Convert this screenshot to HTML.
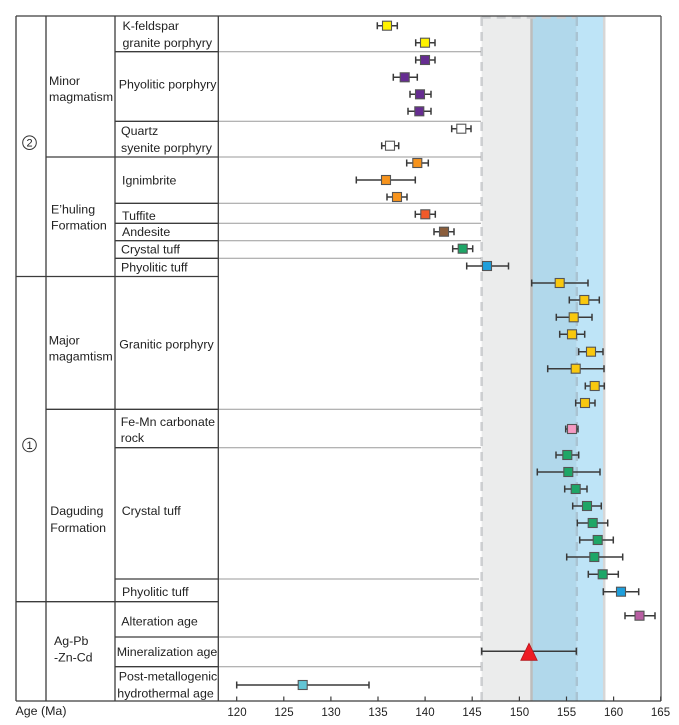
<!DOCTYPE html>
<html><head><meta charset="utf-8"><style>
html,body{margin:0;padding:0;background:#fff;}
svg{display:block;}
text{font-family:"Liberation Sans",Arial,sans-serif;fill:#222;}
</style></head><body>
<svg width="679" height="725" viewBox="0 0 679 725" xmlns="http://www.w3.org/2000/svg">
<!-- bands -->
<rect x="481.7" y="16" width="49.8" height="685" fill="#ebecec"/>
<rect x="531.5" y="16" width="45.3" height="685" fill="#b1d8eb"/>
<rect x="576.8" y="16" width="27.4" height="685" fill="#bee4f7"/>
<line x1="531.5" y1="16" x2="531.5" y2="701" stroke="#bdbdbd" stroke-width="2.5"/>
<line x1="604.2" y1="16" x2="604.2" y2="701" stroke="#d6d6d6" stroke-width="2.5"/>
<g stroke="#cdcfd1" stroke-width="2.6" stroke-dasharray="9,6" fill="none">
<line x1="481.7" y1="17" x2="481.7" y2="701"/>
<line x1="481.7" y1="17.5" x2="576.8" y2="17.5"/>
</g>
<line x1="576.8" y1="17" x2="576.8" y2="701" stroke="#a9c3d2" stroke-width="2.4" stroke-dasharray="9,6"/>

<!-- plot area row lines -->
<g stroke="#9a9a9a" stroke-width="1">
<line x1="218" y1="51.7" x2="481" y2="51.7"/>
<line x1="218" y1="121.3" x2="481" y2="121.3"/>
<line x1="218" y1="157" x2="481" y2="157"/>
<line x1="218" y1="203.3" x2="481" y2="203.3"/>
<line x1="218" y1="223.3" x2="481" y2="223.3"/>
<line x1="218" y1="240.7" x2="481" y2="240.7"/>
<line x1="218" y1="258.3" x2="481" y2="258.3"/>
<line x1="218" y1="409.3" x2="481" y2="409.3"/>
<line x1="218" y1="447.7" x2="481" y2="447.7"/>
<line x1="218" y1="579" x2="479" y2="579"/>
<line x1="218" y1="637" x2="481" y2="637"/>
<line x1="218" y1="666.7" x2="481" y2="666.7"/>
</g>

<!-- table lines -->
<g stroke="#3c3c3c" stroke-width="1.3">
<line x1="16" y1="16" x2="661" y2="16"/>
<line x1="16" y1="701" x2="661" y2="701"/>
<line x1="16" y1="16" x2="16" y2="701"/>
<line x1="46" y1="16" x2="46" y2="701"/>
<line x1="115" y1="16" x2="115" y2="701"/>
<line x1="218.3" y1="16" x2="218.3" y2="701"/>
<line x1="16" y1="276.5" x2="218.3" y2="276.5"/>
<line x1="16" y1="601.7" x2="218.3" y2="601.7"/>
<line x1="46" y1="157" x2="218.3" y2="157"/>
<line x1="46" y1="409.3" x2="218.3" y2="409.3"/>
<line x1="115" y1="51.7" x2="218.3" y2="51.7"/>
<line x1="115" y1="121.3" x2="218.3" y2="121.3"/>
<line x1="115" y1="203.3" x2="218.3" y2="203.3"/>
<line x1="115" y1="223.3" x2="218.3" y2="223.3"/>
<line x1="115" y1="240.7" x2="218.3" y2="240.7"/>
<line x1="115" y1="258.3" x2="218.3" y2="258.3"/>
<line x1="115" y1="447.7" x2="218.3" y2="447.7"/>
<line x1="115" y1="579" x2="218.3" y2="579"/>
<line x1="115" y1="637" x2="218.3" y2="637"/>
<line x1="115" y1="666.7" x2="218.3" y2="666.7"/>
</g>
<line x1="661" y1="16" x2="661" y2="701" stroke="#555" stroke-width="1.3"/>

<!-- axis ticks -->
<g stroke="#3c3c3c" stroke-width="1.2">
<line x1="236.7" y1="696.5" x2="236.7" y2="701"/>
<line x1="283.8" y1="696.5" x2="283.8" y2="701"/>
<line x1="330.9" y1="696.5" x2="330.9" y2="701"/>
<line x1="378" y1="696.5" x2="378" y2="701"/>
<line x1="425.1" y1="696.5" x2="425.1" y2="701"/>
<line x1="472.2" y1="696.5" x2="472.2" y2="701"/>
<line x1="519.4" y1="696.5" x2="519.4" y2="701"/>
<line x1="566.5" y1="696.5" x2="566.5" y2="701"/>
<line x1="613.6" y1="696.5" x2="613.6" y2="701"/>
<line x1="660.7" y1="696.5" x2="660.7" y2="701"/>
</g>
<g font-size="11.5" text-anchor="middle">
<text x="237" y="716">120</text>
<text x="284" y="716">125</text>
<text x="331" y="716">130</text>
<text x="378" y="716">135</text>
<text x="425" y="716">140</text>
<text x="472" y="716">145</text>
<text x="519.5" y="716">150</text>
<text x="566.5" y="716">155</text>
<text x="613.6" y="716">160</text>
<text x="660.5" y="716">165</text>
</g>
<text x="15.5" y="715" font-size="12.4">Age (Ma)</text>

<!-- labels col3 -->
<g font-size="12.4">
<text x="122.5" y="30">K-feldspar</text>
<text x="122.5" y="47">granite porphyry</text>
<text x="118.7" y="88.5">Phyolitic porphyry</text>
<text x="121" y="135">Quartz</text>
<text x="121" y="152">syenite porphyry</text>
<text x="122" y="184.5">Ignimbrite</text>
<text x="122" y="220">Tuffite</text>
<text x="122" y="236">Andesite</text>
<text x="121" y="253.5">Crystal tuff</text>
<text x="121" y="271.5">Phyolitic tuff</text>
<text x="119.3" y="348.5">Granitic porphyry</text>
<text x="120.7" y="426">Fe-Mn carbonate</text>
<text x="120.7" y="442">rock</text>
<text x="121.7" y="515">Crystal tuff</text>
<text x="122" y="596">Phyolitic tuff</text>
<text x="121.3" y="625.5">Alteration age</text>
<text x="116.7" y="656">Mineralization age</text>
<text x="118.7" y="680.5">Post-metallogenic</text>
<text x="117.3" y="697.5">hydrothermal age</text>
<!-- col2 -->
<text x="49" y="85">Minor</text>
<text x="49" y="101">magmatism</text>
<text x="51" y="213.5">E’huling</text>
<text x="51" y="229.5">Formation</text>
<text x="48.7" y="344.5">Major</text>
<text x="48.7" y="360.5">magamtism</text>
<text x="50.3" y="515">Daguding</text>
<text x="50.3" y="532">Formation</text>
<text x="54" y="645">Ag-Pb</text>
<text x="54" y="661.5">-Zn-Cd</text>
</g>
<!-- circled numbers -->
<circle cx="29.5" cy="142.7" r="6.8" fill="none" stroke="#333" stroke-width="1"/>
<text x="29.5" y="146.7" font-size="11" text-anchor="middle">2</text>
<circle cx="29.5" cy="445" r="6.8" fill="none" stroke="#333" stroke-width="1"/>
<text x="29.5" y="449" font-size="11" text-anchor="middle">1</text>

<!-- data -->
<g id="data" stroke-linecap="butt"></g>
<g stroke="#3a3a3a" stroke-width="1.5" fill="none">
<path d="M377.3 25.7H397.3M377.3 22.2V29.2M397.3 22.2V29.2"/>
<path d="M415.7 42.7H435M415.7 39.2V46.2M435 39.2V46.2"/>
<path d="M415.7 60H435M415.7 56.5V63.5M435 56.5V63.5"/>
<path d="M393.3 77.3H417.3M393.3 73.8V80.8M417.3 73.8V80.8"/>
<path d="M410 94.3H431M410 90.8V97.8M431 90.8V97.8"/>
<path d="M408 111.3H431M408 107.8V114.8M431 107.8V114.8"/>
<path d="M451.7 128.7H471M451.7 125.2V132.2M471 125.2V132.2"/>
<path d="M381.7 145.7H398.7M381.7 142.2V149.2M398.7 142.2V149.2"/>
<path d="M406.7 163H428.3M406.7 159.5V166.5M428.3 159.5V166.5"/>
<path d="M356.3 180H415.3M356.3 176.5V183.5M415.3 176.5V183.5"/>
<path d="M387 197H407M387 193.5V200.5M407 193.5V200.5"/>
<path d="M415.3 214.3H435.3M415.3 210.8V217.8M435.3 210.8V217.8"/>
<path d="M434 231.7H454M434 228.2V235.2M454 228.2V235.2"/>
<path d="M452.7 248.7H472.7M452.7 245.2V252.2M472.7 245.2V252.2"/>
<path d="M466.7 266H508.5M466.7 262.5V269.5M508.5 262.5V269.5"/>
<path d="M531.7 283H588M531.7 279.5V286.5M588 279.5V286.5"/>
<path d="M569.3 300H599.3M569.3 296.5V303.5M599.3 296.5V303.5"/>
<path d="M556.3 317.3H592M556.3 313.8V320.8M592 313.8V320.8"/>
<path d="M559.7 334.3H584.7M559.7 330.8V337.8M584.7 330.8V337.8"/>
<path d="M578.7 351.7H603M578.7 348.2V355.2M603 348.2V355.2"/>
<path d="M547.7 368.7H604M547.7 365.2V372.2M604 365.2V372.2"/>
<path d="M585.3 386H604.3M585.3 382.5V389.5M604.3 382.5V389.5"/>
<path d="M575.7 403H595M575.7 399.5V406.5M595 399.5V406.5"/>
<path d="M565.7 429H578M565.7 425.5V432.5M578 425.5V432.5"/>
<path d="M556 455H578.7M556 451.5V458.5M578.7 451.5V458.5"/>
<path d="M537.3 472H600M537.3 468.5V475.5M600 468.5V475.5"/>
<path d="M564.7 489H587M564.7 485.5V492.5M587 485.5V492.5"/>
<path d="M572.7 506H601.3M572.7 502.5V509.5M601.3 502.5V509.5"/>
<path d="M577.3 523H607.7M577.3 519.5V526.5M607.7 519.5V526.5"/>
<path d="M579.7 540H613.3M579.7 536.5V543.5M613.3 536.5V543.5"/>
<path d="M566.7 557H622.7M566.7 553.5V560.5M622.7 553.5V560.5"/>
<path d="M588.3 574.3H618.3M588.3 570.8V577.8M618.3 570.8V577.8"/>
<path d="M603.3 591.7H638.7M603.3 588.2V595.2M638.7 588.2V595.2"/>
<path d="M625 615.7H655M625 612.2V619.2M655 612.2V619.2"/>
<path d="M481.7 651.3H576.3M481.7 647.8V654.8M576.3 647.8V654.8"/>
<path d="M236.7 685H369M236.7 681.5V688.5M369 681.5V688.5"/>
</g>
<g stroke="#555" stroke-width="1.1">
<rect x="382.5" y="21.2" width="9" height="9" fill="#fff200"/>
<rect x="420.5" y="38.2" width="9" height="9" fill="#fff200"/>
<rect x="420.5" y="55.5" width="9" height="9" fill="#662d91"/>
<rect x="400.2" y="72.8" width="9" height="9" fill="#662d91"/>
<rect x="415.5" y="89.8" width="9" height="9" fill="#662d91"/>
<rect x="414.8" y="106.8" width="9" height="9" fill="#662d91"/>
<rect x="456.8" y="124.2" width="9" height="9" fill="#ffffff"/>
<rect x="385.5" y="141.2" width="9" height="9" fill="#ffffff"/>
<rect x="412.8" y="158.5" width="9" height="9" fill="#f7941d"/>
<rect x="381.5" y="175.5" width="9" height="9" fill="#f7941d"/>
<rect x="392.5" y="192.5" width="9" height="9" fill="#f7941d"/>
<rect x="420.8" y="209.8" width="9" height="9" fill="#f15a29"/>
<rect x="439.5" y="227.2" width="9" height="9" fill="#8b5e3c"/>
<rect x="458.2" y="244.2" width="9" height="9" fill="#1ea667"/>
<rect x="482.5" y="261.5" width="9" height="9" fill="#1e9fdc"/>
<rect x="555.2" y="278.5" width="9" height="9" fill="#f9c80e"/>
<rect x="579.8" y="295.5" width="9" height="9" fill="#f9c80e"/>
<rect x="569.2" y="312.8" width="9" height="9" fill="#f9c80e"/>
<rect x="567.5" y="329.8" width="9" height="9" fill="#f9c80e"/>
<rect x="586.5" y="347.2" width="9" height="9" fill="#f9c80e"/>
<rect x="571.2" y="364.2" width="9" height="9" fill="#f9c80e"/>
<rect x="590.2" y="381.5" width="9" height="9" fill="#f9c80e"/>
<rect x="580.5" y="398.5" width="9" height="9" fill="#f9c80e"/>
<rect x="567.5" y="424.5" width="9" height="9" fill="#f49ac2"/>
<rect x="562.8" y="450.5" width="9" height="9" fill="#1ea667"/>
<rect x="563.8" y="467.5" width="9" height="9" fill="#1ea667"/>
<rect x="571.2" y="484.5" width="9" height="9" fill="#1ea667"/>
<rect x="582.5" y="501.5" width="9" height="9" fill="#1ea667"/>
<rect x="588.2" y="518.5" width="9" height="9" fill="#1ea667"/>
<rect x="593.2" y="535.5" width="9" height="9" fill="#1ea667"/>
<rect x="589.8" y="552.5" width="9" height="9" fill="#1ea667"/>
<rect x="598.2" y="569.8" width="9" height="9" fill="#1ea667"/>
<rect x="616.5" y="587.2" width="9" height="9" fill="#1e9fdc"/>
<rect x="635" y="611.2" width="9" height="9" fill="#b95ea3"/>
<rect x="298.2" y="680.5" width="9" height="9" fill="#62c5d5"/>
</g>
<polygon points="529,643.3 520.8,660.3 537.2,660.3" fill="#ed1c24" stroke="#b5161c" stroke-width="0.8"/>
</svg>
</body></html>
